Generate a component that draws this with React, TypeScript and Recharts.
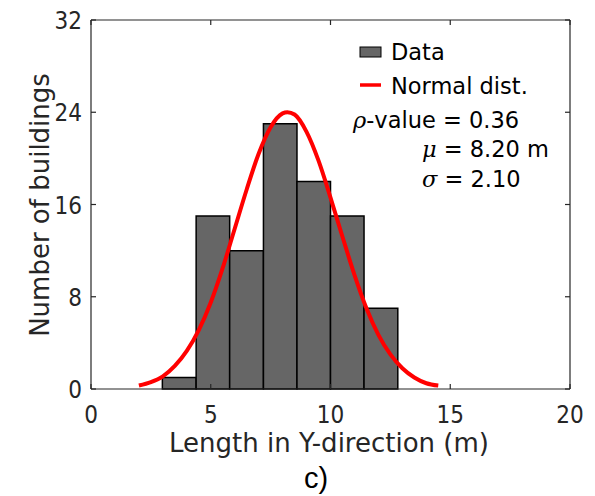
import { ComposedChart, Line, XAxis, YAxis, ReferenceArea, Customized } from "recharts";

// histogram bins (bin edges in m) and counts
const binEdges = [2.98, 4.39, 5.79, 7.2, 8.6, 10.0, 11.4, 12.81];
const binCounts = [1, 15, 12, 23, 18, 15, 7];

// fitted normal curve
const curveX = [2, 2.5, 3, 3.5, 4, 4.5, 5, 5.5, 6, 6.5, 7, 7.5, 8, 8.2, 8.5, 9, 9.5, 10, 10.5, 11, 11.5, 12, 12.5, 13, 13.5, 14, 14.5];
const curveY = [0.3, 0.6, 1.1, 2.0, 3.3, 5.1, 7.5, 10.5, 13.9, 17.3, 20.4, 22.7, 23.9, 24.0, 23.8, 22.3, 19.8, 16.6, 13.2, 9.9, 7.0, 4.7, 3.0, 1.8, 1.0, 0.5, 0.3];

const xTicks = [0, 5, 10, 15, 20];
const yTicks = [0, 8, 16, 24, 32];

const curveData = curveX.map((x, i) => ({ x, y: curveY[i] }));

const COND = "'DejaVu Sans Condensed', 'DejaVu Sans', sans-serif";
const FONT = "'DejaVu Sans', sans-serif";
const GREEK = "'DejaVu Serif', serif";
const AXIS = "#262626";

const BottomTick = ({ x, y, payload }: any) => (
  <g>
    <line x1={x} y1={y} x2={x} y2={y - 5} stroke={AXIS} strokeWidth={1.2} />
    <text x={x} y={y + 34} textAnchor="middle" fontSize={24} fontFamily={COND} fill="#262626">
      {payload.value}
    </text>
  </g>
);

const LeftTick = ({ x, y, payload }: any) => (
  <g>
    <line x1={x} y1={y} x2={x + 5} y2={y} stroke={AXIS} strokeWidth={1.2} />
    <text x={x - 9} y={y + 9} textAnchor="end" fontSize={24} fontFamily={COND} fill="#262626">
      {payload.value}
    </text>
  </g>
);

const TopTick = ({ x, y }: any) => (
  <line x1={x} y1={y} x2={x} y2={y + 5} stroke={AXIS} strokeWidth={1.2} />
);

const RightTick = ({ x, y }: any) => (
  <line x1={x} y1={y} x2={x - 5} y2={y} stroke={AXIS} strokeWidth={1.2} />
);

const Annotations = () => (
  <g fontFamily={FONT} fill="#000">
    <text x={40} y={205} transform="rotate(-90 40 205)" textAnchor="middle" dominantBaseline="central" fontSize={26} fill="#262626">
      Number of buildings
    </text>
    <text x={329} y={452} textAnchor="middle" fontSize={26} fill="#262626">
      Length in Y-direction (m)
    </text>
    <text x={316} y={488} textAnchor="middle" fontSize={29} fontFamily="'Liberation Sans', Arial, sans-serif">
      c)
    </text>
    <rect x={360} y={47} width={21} height={10} fill="#666666" stroke="#000" strokeWidth={1} />
    <text x={391} y={60} fontSize={22.5}>Data</text>
    <line x1={360} y1={85} x2={381} y2={85} stroke="#ff0000" strokeWidth={3.5} />
    <text x={391} y={94} fontSize={22.5}>Normal dist.</text>
    <text x={353} y={128} fontSize={22.5}>
      <tspan fontStyle="italic" fontFamily={GREEK}>ρ</tspan>-value = 0.36
    </text>
    <text x={422} y={157} fontSize={22.5}>
      <tspan fontStyle="italic" fontFamily={GREEK}>μ</tspan> = 8.20 m
    </text>
    <text x={422} y={187} fontSize={22.5}>
      <tspan fontStyle="italic" fontFamily={GREEK}>σ</tspan> = 2.10
    </text>
  </g>
);

export default function App() {
  return (
    <div style={{ position: "absolute", left: 0, top: 0, width: 595, height: 496, background: "#fff" }}>
      <ComposedChart
        width={595}
        height={496}
        data={curveData}
        margin={{ top: 19, right: 24, bottom: 0, left: 0 }}
      >
        <XAxis
          dataKey="x"
          type="number"
          domain={[0, 20]}
          ticks={xTicks}
          height={107}
          tickSize={0}
          tickMargin={0}
          tickLine={false}
          axisLine={{ stroke: AXIS, strokeWidth: 1.2 }}
          tick={<BottomTick />}
          interval={0}
        />
        <XAxis
          xAxisId="top"
          orientation="top"
          dataKey="x"
          type="number"
          domain={[0, 20]}
          ticks={xTicks}
          height={1}
          tickSize={0}
          tickMargin={0}
          tickLine={false}
          axisLine={{ stroke: AXIS, strokeWidth: 1.2 }}
          tick={<TopTick />}
          interval={0}
        />
        <YAxis
          type="number"
          domain={[0, 32]}
          ticks={yTicks}
          width={91}
          tickSize={0}
          tickMargin={0}
          tickLine={false}
          axisLine={{ stroke: AXIS, strokeWidth: 1.2 }}
          tick={<LeftTick />}
          interval={0}
        />
        <YAxis
          yAxisId="right"
          orientation="right"
          type="number"
          domain={[0, 32]}
          ticks={yTicks}
          width={1}
          tickSize={0}
          tickMargin={0}
          tickLine={false}
          axisLine={{ stroke: AXIS, strokeWidth: 1.2 }}
          tick={<RightTick />}
          interval={0}
        />
        {binCounts.map((c, i) => (
          <ReferenceArea
            key={i}
            x1={binEdges[i]}
            x2={binEdges[i + 1]}
            y1={0}
            y2={c}
            fill="#666666"
            fillOpacity={1}
            stroke="#000"
            strokeWidth={1.5}
            strokeOpacity={1}
          />
        ))}
        <Line
          xAxisId="top"
          yAxisId="right"
          dataKey="y"
          stroke="none"
          dot={false}
          activeDot={false}
          legendType="none"
          isAnimationActive={false}
        />
        <Line
          dataKey="y"
          type="monotone"
          stroke="#ff0000"
          strokeWidth={4}
          dot={false}
          activeDot={false}
          isAnimationActive={false}
        />
        <Customized component={Annotations} />
      </ComposedChart>
    </div>
  );
}
